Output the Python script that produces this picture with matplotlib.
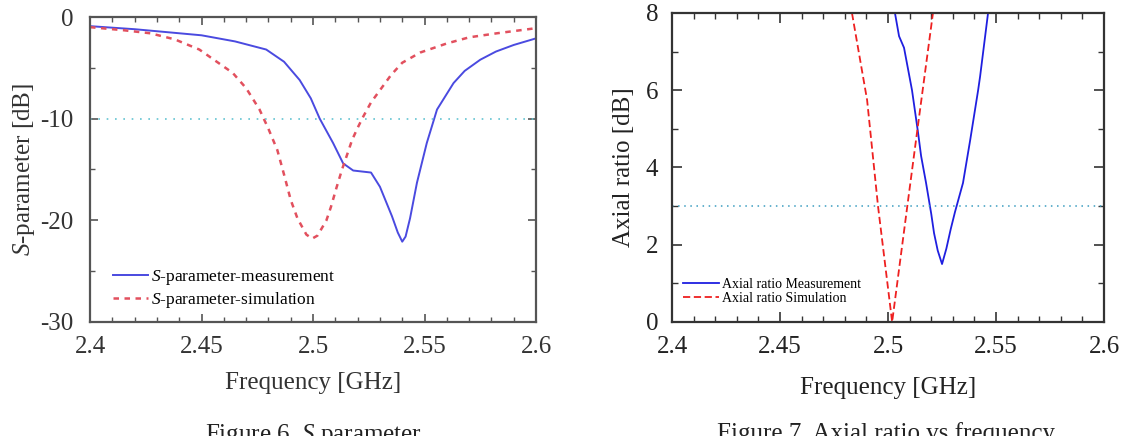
import matplotlib
matplotlib.use("Agg")
import matplotlib.pyplot as plt
from matplotlib.ticker import MultipleLocator

plt.rcParams["font.family"] = "Liberation Serif"
plt.rcParams["mathtext.fontset"] = "custom"
plt.rcParams["mathtext.rm"] = "Liberation Serif"
plt.rcParams["mathtext.it"] = "Liberation Serif:italic"

# ── Figure 6 : S-parameter ──────────────────────────────────────────────────
freq_s_meas = [2.40, 2.42, 2.45, 2.465, 2.479, 2.487, 2.494, 2.499, 2.503,
               2.509, 2.5135, 2.518, 2.522, 2.526, 2.530, 2.5354, 2.538,
               2.540, 2.5415, 2.5435, 2.5466, 2.551, 2.5556, 2.563, 2.568,
               2.575, 2.582, 2.590, 2.60]
s_meas = [-0.9, -1.2, -1.8, -2.4, -3.2, -4.4, -6.2, -8.0, -10.0,
          -12.4, -14.4, -15.1, -15.2, -15.3, -16.7, -19.6, -21.2,
          -22.1, -21.6, -19.8, -16.3, -12.4, -9.1, -6.5, -5.3,
          -4.2, -3.4, -2.75, -2.1]

freq_s_sim = [2.40, 2.415, 2.427, 2.438, 2.449, 2.464, 2.470, 2.476, 2.480,
              2.484, 2.487, 2.490, 2.493, 2.497, 2.4996, 2.502, 2.506,
              2.508, 2.5105, 2.513, 2.5155, 2.5175, 2.520, 2.5225, 2.526,
              2.530, 2.535, 2.540, 2.548, 2.560, 2.570, 2.5825, 2.60]
s_sim = [-1.0, -1.3, -1.6, -2.2, -3.2, -5.5, -7.0, -9.1, -11.0,
         -13.1, -15.5, -18.0, -19.8, -21.4, -21.8, -21.5, -20.0,
         -18.7, -16.8, -15.0, -13.4, -12.1, -10.9, -9.8, -8.4,
         -7.2, -5.7, -4.5, -3.5, -2.6, -2.0, -1.6, -1.1]

# ── Figure 7 : axial ratio ──────────────────────────────────────────────────
freq_ar_meas = [2.5032, 2.5051, 2.5074, 2.5111, 2.5139, 2.5153, 2.5176,
                2.5200, 2.5213, 2.5230, 2.5250, 2.5270, 2.5290, 2.5310,
                2.5347, 2.5380, 2.5417, 2.5426, 2.5463]
ar_meas = [8.0, 7.4, 7.1, 6.0, 4.9, 4.3, 3.6, 2.8, 2.3, 1.85, 1.5, 1.9,
           2.4, 2.85, 3.6, 4.7, 6.0, 6.35, 8.0]

freq_ar_sim = [2.4833, 2.4903, 2.4954, 2.5019, 2.5093, 2.5134, 2.5208]
ar_sim = [8.0, 5.75, 2.98, 0.0, 3.16, 4.9, 8.0]

fmt = plt.FuncFormatter(lambda v, p: f"{v:g}")

fig = plt.figure(figsize=(11.34, 4.36), dpi=100)
fig.patch.set_facecolor("white")

# ── left panel ──────────────────────────────────────────────────────────────
ax1 = fig.add_axes([0.0794, 0.2615, 0.3933, 0.6995])
ax1.plot(freq_s_meas, s_meas, color="#4a4ae0", lw=1.4,
         label=r"$\mathit{S}$-parameter-measurement")
ax1.plot(freq_s_sim, s_sim, color="#e2505e", lw=1.8, ls=(0, (2.2, 2.2)),
         label=r"$\mathit{S}$-parameter-simulation")
ax1.axhline(-10, color="#62c4d2", lw=1.2, ls=(0, (1, 4)))
ax1.set_xlim(2.4, 2.6)
ax1.set_ylim(-30, 0)
ax1.xaxis.set_major_locator(MultipleLocator(0.05))
ax1.xaxis.set_minor_locator(MultipleLocator(0.01))
ax1.yaxis.set_major_locator(MultipleLocator(10))
ax1.yaxis.set_minor_locator(MultipleLocator(5))
ax1.xaxis.set_major_formatter(fmt)
ax1.yaxis.set_major_formatter(fmt)
ax1.tick_params(which="both", direction="in", top=True, right=True,
                colors="#555555", labelcolor="#333333", labelsize=18)
ax1.tick_params(which="major", length=6, width=1.2)
ax1.tick_params(which="minor", length=3.5, width=1.0)
ax1.tick_params(axis="x", which="major", pad=10)
ax1.tick_params(axis="y", which="major", pad=12)
for s in ax1.spines.values():
    s.set_color("#555555")
    s.set_linewidth(1.6)
ax1.set_xlabel("Frequency [GHz]", fontsize=18, color="#333333", labelpad=10)
ax1.set_ylabel(r"$\mathit{S}$-parameter [dB]", fontsize=18, color="#333333",
               labelpad=2)
ax1.legend(loc="lower left", bbox_to_anchor=(0.02, -0.005), frameon=False,
           fontsize=12.5, handlelength=2.0, handletextpad=0.2,
           labelspacing=0.15, borderpad=0.3)

# ── right panel ─────────────────────────────────────────────────────────────
ax2 = fig.add_axes([0.5926, 0.2615, 0.381, 0.7087])
ax2.plot(freq_ar_meas, ar_meas, color="#1f1fe0", lw=1.3,
         label="Axial ratio Measurement")
ax2.plot(freq_ar_sim, ar_sim, color="#ee2020", lw=1.3, ls=(0, (4, 2)),
         label="Axial ratio Simulation")
ax2.axhline(3, color="#3a9cc0", lw=1.1, ls=(0, (1, 3)))
ax2.set_xlim(2.4, 2.6)
ax2.set_ylim(0, 8)
ax2.xaxis.set_major_locator(MultipleLocator(0.05))
ax2.xaxis.set_minor_locator(MultipleLocator(0.01))
ax2.yaxis.set_major_locator(MultipleLocator(2))
ax2.yaxis.set_minor_locator(MultipleLocator(1))
ax2.xaxis.set_major_formatter(fmt)
ax2.tick_params(which="both", direction="in", top=True, right=True,
                colors="#333333", labelcolor="#222222", labelsize=18)
ax2.tick_params(which="major", length=7, width=1.2)
ax2.tick_params(which="minor", length=4, width=1.0)
ax2.tick_params(axis="x", which="major", pad=10)
ax2.tick_params(axis="y", which="major", pad=10)
for s in ax2.spines.values():
    s.set_color("#333333")
    s.set_linewidth(1.6)
ax2.set_xlabel("Frequency [GHz]", fontsize=18, color="#222222", labelpad=14)
ax2.set_ylabel("Axial ratio [dB]", fontsize=18, color="#222222", labelpad=8)
ax2.legend(loc="lower left", bbox_to_anchor=(0.0, 0.02), frameon=False,
           fontsize=10, handlelength=2.6, handletextpad=0.2,
           labelspacing=0.05, borderpad=0.3)

# ── captions (cut by the bottom edge as in the source page) ────────────────
fig.text(313 / 1134, 14 / 436, r"Figure 6. $\mathit{S}$ parameter",
         ha="center", va="top", fontsize=18, color="#222222")
fig.text(886 / 1134, 14 / 436, "Figure 7. Axial ratio vs frequency",
         ha="center", va="top", fontsize=18, color="#222222")

fig.savefig("out.png", dpi=100, facecolor="white")
plt.close(fig)
